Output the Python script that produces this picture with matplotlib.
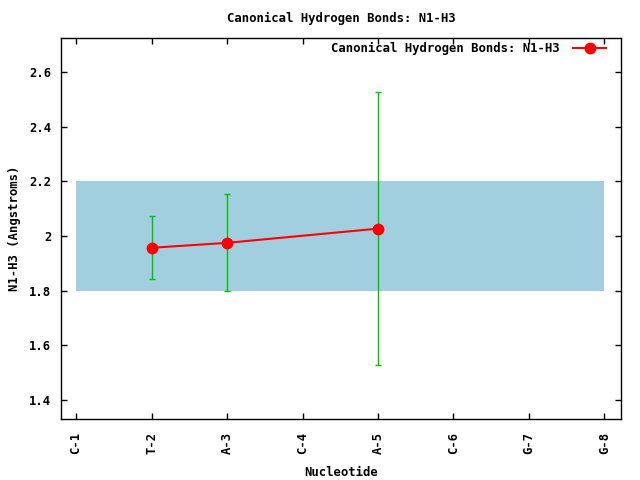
import matplotlib
matplotlib.use("Agg")
import matplotlib.pyplot as plt

labels = ["C-1", "T-2", "A-3", "C-4", "A-5", "C-6", "G-7", "G-8"]
pos_idx = [1, 2, 4]
means = [1.957, 1.975, 2.027]
errs = [0.115, 0.177, 0.499]
band_low, band_high = 1.8, 2.2
yticks = [1.4, 1.6, 1.8, 2.0, 2.2, 2.4, 2.6]
ytick_labels = ["1.4", "1.6", "1.8", "2", "2.2", "2.4", "2.6"]

FS = 8.8
plt.rcParams['font.family'] = ['DejaVu Sans Mono']
plt.rcParams['font.weight'] = 'bold'
plt.rcParams['font.size'] = FS

fig = plt.figure(figsize=(6.4, 4.8), dpi=100)
ax = fig.add_axes([61/640, 61/480, 560/640, 381/480])

x_all = list(range(len(labels)))
ax.fill_between([x_all[0], x_all[-1]], band_low, band_high, color="#a2cfdf", lw=0, zorder=1)
ax.errorbar(pos_idx, means, yerr=errs, fmt='none', ecolor="#00c000", elinewidth=1, capsize=2.5, capthick=1, zorder=2)
ax.plot(pos_idx, means, color="red", lw=1.5, marker='o', ms=7.5, zorder=3,
        label="Canonical Hydrogen Bonds: N1-H3")

ax.set_xlim(-0.2, 7.22)
ax.set_ylim(1.331, 2.724)
ax.set_xticks(x_all)
ax.set_xticklabels(labels, rotation=90)
ax.set_yticks(yticks)
ax.set_yticklabels(ytick_labels)
ax.tick_params(direction='in', top=True, right=True, length=4, width=1)
ax.tick_params(axis='x', pad=9)
ax.tick_params(axis='y', pad=7)
for s in ax.spines.values():
    s.set_linewidth(1)

fig.text(341/640, 1 - 18/480, "Canonical Hydrogen Bonds: N1-H3", ha='center', va='center',
         fontsize=FS, fontweight='bold')
ax.set_xlabel("Nucleotide", fontsize=FS, fontweight='bold', va='center')
ax.xaxis.set_label_coords(0.5, (419 - 472) / 381)
ax.set_ylabel("N1-H3 (Angstroms)", fontsize=FS, fontweight='bold', va='center')
ax.yaxis.set_label_coords((15 - 61) / 560, 0.5)

leg = ax.legend(loc='upper right', bbox_to_anchor=((606 - 61) / 560, (419 - 42) / 381),
                frameon=False, markerfirst=False, handlelength=2.7,
                handletextpad=1.1, borderaxespad=0, borderpad=0,
                prop={'family': 'DejaVu Sans Mono', 'weight': 'bold', 'size': FS})

fig.savefig("out.png", dpi=100)
